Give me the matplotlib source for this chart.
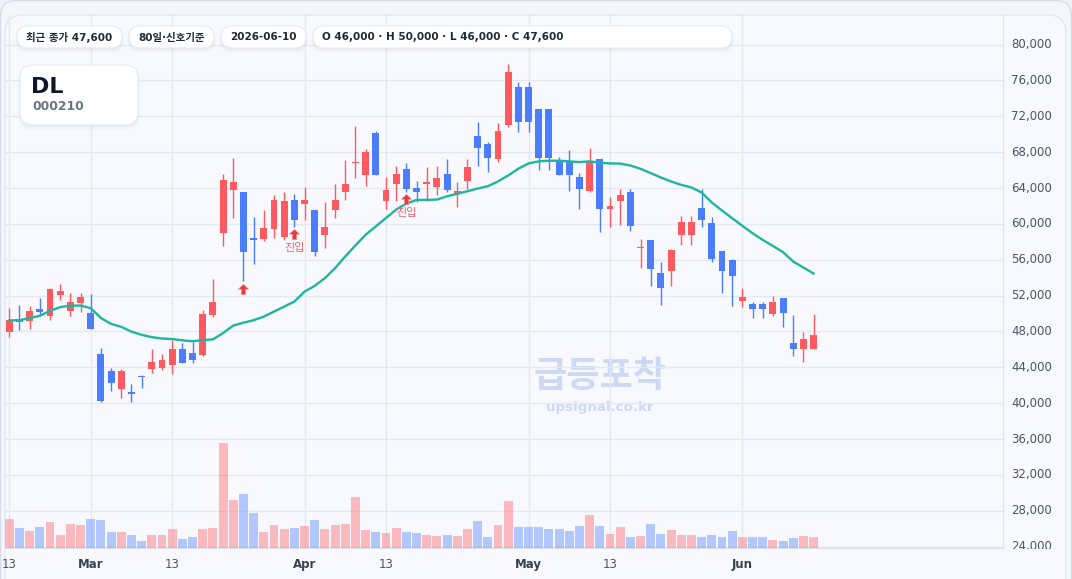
import numpy as np
import pandas as pd
import matplotlib
matplotlib.use('Agg')
import matplotlib.pyplot as plt
from matplotlib.patches import FancyBboxPatch, Rectangle
from matplotlib.path import Path
from matplotlib.transforms import blended_transform_factory, offset_copy

plt.rcParams['font.family'] = ['DejaVu Sans', 'Noto Sans CJK KR']

# ---------------------------------------------------------------
# 데이터 (DL 000210, 최근 80 거래일)
# ---------------------------------------------------------------
holidays = ['2026-02-16', '2026-02-17', '2026-02-18', '2026-03-02']
dates = pd.bdate_range('2026-02-13', '2026-06-10')
dates = dates[~dates.isin(pd.to_datetime(holidays))]

open_ = [47900, 49400, 49200, 50500, 49700, 52100, 50300, 51200, 50100, 45500,
         43600, 41600, 41300, 43000, 43800, 43900, 44300, 46100, 45600, 45400,
         49800, 59000, 63800, 63500, 58400, 58300, 59400, 58500, 62700, 62200,
         61500, 58800, 61600, 63500, 66800, 65500, 70100, 62500, 64500, 66100,
         64000, 64500, 64100, 65600, 63300, 64800, 69800, 68900, 67200, 71000,
         75300, 75300, 72800, 72800, 67000, 67000, 65200, 63700, 67200, 61700,
         62600, 63600, 57300, 58200, 54500, 54800, 58800, 58800, 61800, 60100,
         57000, 56000, 51400, 51100, 51100, 50000, 51700, 46700, 46000, 46000]
high = [50600, 51000, 50800, 51700, 52900, 53300, 52300, 52300, 52200, 46200,
        43900, 43800, 42100, 43200, 46100, 45500, 47000, 46700, 46800, 50400,
        53800, 65600, 67300, 63600, 60800, 61600, 63200, 63600, 63300, 64100,
        61500, 62400, 64400, 67100, 70900, 68400, 70400, 65200, 66500, 66800,
        64800, 66300, 66500, 67200, 64700, 67200, 71400, 69100, 71300, 77800,
        75800, 75800, 72800, 72800, 67500, 68200, 65700, 68500, 67200, 63000,
        63900, 63900, 58300, 58200, 55800, 57200, 60900, 60900, 63900, 60800,
        57000, 56100, 52900, 51300, 51300, 52000, 51700, 49800, 47900, 50000]
low = [47400, 48200, 48300, 49800, 49300, 51500, 49700, 50200, 48300, 40100,
       41400, 40600, 40100, 41700, 43400, 43700, 43300, 44500, 44500, 45300,
       49600, 57500, 60600, 53600, 55500, 58100, 58400, 58200, 59700, 60400,
       56400, 57300, 60700, 62700, 65100, 64200, 65500, 61700, 62500, 63600,
       62400, 62500, 63200, 63600, 61900, 63900, 66500, 65800, 66900, 70800,
       70200, 70200, 66000, 66000, 65400, 63700, 61700, 63600, 59100, 59600,
       59900, 59200, 55100, 53100, 51000, 53100, 57700, 57700, 59600, 55800,
       52300, 50800, 50700, 49500, 49500, 49700, 48500, 45300, 44600, 46000]
close = [49300, 49100, 50300, 50200, 52700, 52500, 51300, 51800, 48300, 40200,
         42300, 43600, 41000, 42900, 44600, 44800, 46000, 44500, 44800, 49900,
         51300, 64900, 64700, 56900, 58200, 59500, 62700, 62600, 60400, 62700,
         56900, 59600, 62700, 64400, 66900, 68000, 65500, 63800, 65600, 63900,
         63500, 64600, 65100, 63800, 63700, 66300, 68500, 67300, 70400, 76900,
         71400, 71400, 67400, 67400, 65500, 65500, 63900, 66900, 61700, 62000,
         63200, 59800, 57400, 55000, 52900, 57100, 60200, 60200, 60400, 56100,
         54800, 54200, 51900, 50500, 50500, 51300, 50100, 46000, 47200, 47600]
# 신호기준 이동평균선
ma_line = [49230, 49270, 49490, 49750, 50300, 50720, 50870, 50900, 50600, 49500,
           48850, 48520, 47980, 47630, 47370, 47220, 47150, 47020, 46910, 47040,
           47120, 47830, 48660, 48980, 49260, 49660, 50220, 50780, 51340, 52450,
           53090, 53950, 55060, 56370, 57600, 58790, 59720, 60660, 61590, 62260,
           62670, 62670, 62710, 63080, 63350, 63640, 63940, 64200, 64730, 65400,
           66150, 66740, 66970, 67040, 67040, 66970, 66890, 66970, 66820, 66740,
           66720, 66510, 66140, 65660, 65170, 64730, 64350, 64060, 63500, 62380,
           61490, 60630, 59780, 58960, 58210, 57540, 56840, 55800, 55130, 54460]
volume = [88000, 61000, 52000, 64000, 79000, 40000, 73000, 70000, 88000, 85000,
          49000, 49000, 40000, 22000, 40000, 40000, 58000, 28000, 34000, 58000,
          61000, 316000, 145000, 163000, 106000, 49000, 70000, 58000, 61000, 67000,
          85000, 58000, 70000, 73000, 154000, 55000, 49000, 46000, 61000, 49000,
          46000, 40000, 37000, 40000, 37000, 58000, 82000, 34000, 70000, 142000,
          64000, 64000, 64000, 58000, 58000, 52000, 67000, 100000, 67000, 43000,
          64000, 34000, 37000, 73000, 43000, 55000, 40000, 40000, 34000, 40000,
          34000, 52000, 34000, 34000, 34000, 25000, 22000, 31000, 37000, 34000]
signal_idx = [23, 28, 39]
signal_txt = ['', '진입', '진입']
price_ticks = list(range(24000, 80001, 4000))

# 색상
UP = '#ff5a5f'
DOWN = '#4a7dff'
MA_COLOR = '#1fb59e'
GRID = '#e4e8ef'
PANEL = '#f7f9fe'

W, H = 1072, 579
fig = plt.figure(figsize=(W / 100, H / 100), dpi=100)
fig.patch.set_facecolor('#eef2f8')

# 배경 패널
bg = fig.add_axes([0, 0, 1, 1], zorder=0)
bg.set_xlim(0, W)
bg.set_ylim(H, 0)
bg.axis('off')
bg.add_patch(FancyBboxPatch((0.5, 0.5), W - 1, H + 30, boxstyle='round,pad=0,rounding_size=16',
                            fc='#f3f6fb', ec='#d6dde9', lw=1))
bg.add_patch(FancyBboxPatch((5, 15), 1061, H + 30, boxstyle='round,pad=0,rounding_size=18',
                            fc=PANEL, ec='#e3e8f0', lw=1))
# 워터마크
bg.text(600, 376, '급등포착', ha='center', va='center', fontsize=26, fontweight='bold',
        family=['Noto Sans CJK KR'], color='#ccd8f6')
bg.text(600, 407, 'upsignal.co.kr', ha='center', va='center', fontsize=9.6, fontweight='bold',
        color='#ccd8f6')

rect = [5 / W, 1 - 548 / H, 998 / W, 533 / H]
x = np.arange(len(dates))
xlim = (-0.42, 97.6)

# 가격 차트
ax = fig.add_axes(rect, zorder=1)
ax.set_facecolor('none')
ax.set_xlim(*xlim)
ax.set_ylim(23860, 83290)

o = np.array(open_)
c = np.array(close)
colors = np.where(c >= o, UP, DOWN)
ax.vlines(x, low, high, colors=colors, lw=1, zorder=3)
body_low = np.minimum(o, c)
body_h = np.maximum(np.abs(c - o), 150)
ax.bar(x, body_h, bottom=body_low, width=0.68, color=colors, zorder=4)
ax.plot(x, ma_line, color=MA_COLOR, lw=1.7, zorder=5)

# 진입 신호
arrow = Path([(0, 1), (-1, 0.05), (-0.42, 0.05), (-0.42, -1), (0.42, -1), (0.42, 0.05), (1, 0.05), (0, 1)],
             [Path.MOVETO] + [Path.LINETO] * 6 + [Path.CLOSEPOLY])
arrow_tr = offset_copy(ax.transData, fig=fig, x=0, y=-7.5, units='dots')
for i, txt in zip(signal_idx, signal_txt):
    ax.plot(i, low[i], marker=arrow, ms=7.5, color='#e53b41', mec='#f39a9d', mew=0.4,
            transform=arrow_tr, zorder=6)
    if txt:
        ax.annotate(txt, xy=(i, low[i]), xytext=(0, -21), textcoords='offset pixels',
                    ha='center', va='center', fontsize=8, color='#e8676b', zorder=6)

# 그리드 / 축
ax.set_yticks(price_ticks)
ax.tick_params(axis='y', left=False, labelleft=False, right=False)
tick_pos = [i for i, d in enumerate(dates)
            if d.day == 13 or i == 0 or d.month != dates[i - 1].month]
tick_lab = [dates[i].strftime('%b') if (i > 0 and dates[i].month != dates[i - 1].month)
            else str(dates[i].day) for i in tick_pos]
ax.set_xticks(tick_pos, tick_lab)
ax.tick_params(axis='x', length=0, pad=7, labelsize=8.5, labelcolor='#4b5563')
for lbl in ax.get_xticklabels():
    if not lbl.get_text().isdigit():
        lbl.set_fontweight('bold')
        lbl.set_color('#374151')
ax.grid(True, color=GRID, lw=1)
ax.set_axisbelow(True)
for s in ['top', 'left']:
    ax.spines[s].set_visible(False)
for s in ['right', 'bottom']:
    ax.spines[s].set_color('#dde2ea')

# 오른쪽 가격 라벨
ytr = blended_transform_factory(ax.transAxes, ax.transData)
for v in price_ticks:
    ax.text(1.008, v, f'{v:,}', transform=ytr, ha='left', va='center',
            fontsize=8.5, color='#4b5563', clip_on=False)

# 거래량
axv = fig.add_axes(rect, zorder=2)
axv.set_facecolor('none')
axv.set_xlim(*xlim)
axv.set_ylim(0, 1.6e6)
axv.bar(x, volume, width=0.88, color=colors, alpha=0.4, lw=0)
axv.axis('off')

# 상단 배지 / 종목 카드
ov = fig.add_axes([0, 0, 1, 1], zorder=5)
ov.set_xlim(0, W)
ov.set_ylim(H, 0)
ov.axis('off')
ov.patch.set_alpha(0)

# 가격축 아래쪽 라벨이 잘리는 부분
ov.add_patch(Rectangle((1004, 549), 60, 28, fc=PANEL, ec='none'))


def card(x0, y0, x1, y1, r):
    for k, a in [(3, 0.025), (1.5, 0.035)]:
        ov.add_patch(FancyBboxPatch((x0 - k / 2, y0 + k / 2), x1 - x0 + k, y1 - y0 + k,
                                    boxstyle=f'round,pad=0,rounding_size={r}', fc='#1e293b',
                                    ec='none', alpha=a))
    ov.add_patch(FancyBboxPatch((x0, y0), x1 - x0, y1 - y0, boxstyle=f'round,pad=0,rounding_size={r}',
                                fc='white', ec='#e6eaf1', lw=0.8))


badges = [(17, 122, f'최근 종가 {close[-1]:,}'),
          (129, 214, '80일·신호기준'),
          (221, 306, dates[-1].strftime('%Y-%m-%d')),
          (313, 732, f'O {open_[-1]:,} · H {high[-1]:,} · L {low[-1]:,} · C {close[-1]:,}')]
for x0, x1, txt in badges:
    card(x0, 26, x1, 48, 11)
    ov.text(x0 + 9, 37.5, txt, ha='left', va='center', fontsize=7.5, fontweight='bold', color='#1f2937')

card(20, 65, 138, 125, 13)
ov.text(31, 87, 'DL', ha='left', va='center', fontsize=16, fontweight='heavy', color='#0f172a')
ov.text(32, 107, '000210', ha='left', va='center', fontsize=8.8, fontweight='bold', color='#6b7280')

fig.savefig('out.png', dpi=100)
